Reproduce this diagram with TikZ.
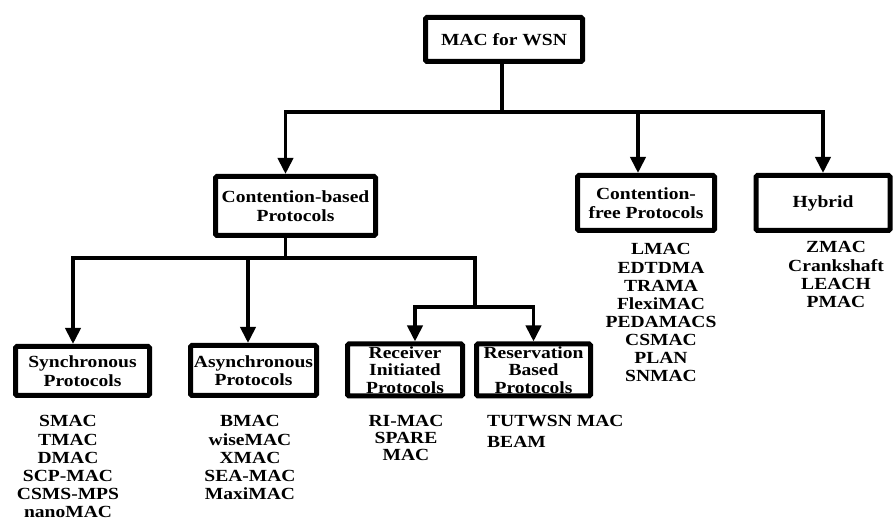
\documentclass[tikz,border=0pt]{standalone}
\usepackage{fontspec}
\setmainfont{Liberation Serif}[FakeStretch=1.15]
\usetikzlibrary{arrows.meta}
\begin{document}
\begin{tikzpicture}[x=1pt,y=-1pt,
  box/.style={draw, line width=5pt, rounded corners=1.5pt, align=center, inner sep=0pt,
    font=\fontsize{17}{18.5}\selectfont\bfseries},
  conn/.style={line width=3.8pt},
  arr/.style={conn, -{Triangle[width=15pt,length=16pt]}},
  lst/.style={align=center, inner sep=0pt, font=\fontsize{17}{18.1}\selectfont\bfseries}]
\useasboundingbox (0,0) rectangle (895,521);

% boxes
\node[box, minimum width=157, minimum height=44] (root) at (504,39.5) {MAC for WSN};
\node[box, minimum width=160, minimum height=59] (cb) at (295.5,206) {Contention-based\\Protocols};
\node[box, minimum width=137, minimum height=55] (cf) at (646,203) {Contention-\\free Protocols};
\node[box, minimum width=134, minimum height=55] (hy) at (823,203) {Hybrid};
\node[box, minimum width=134, minimum height=49] (sy) at (82.5,371) {Synchronous\\Protocols};
\node[box, minimum width=126, minimum height=50] (as) at (253.5,370.5) {Asynchronous\\Protocols};
\node[box, minimum width=115, minimum height=52, font=\fontsize{17}{17.2}\selectfont\bfseries] (ri) at (405,370) {Receiver\\Initiated\\Protocols};
\node[box, minimum width=114, minimum height=52, font=\fontsize{17}{17.2}\selectfont\bfseries] (rb) at (533.5,370) {Reservation\\Based\\Protocols};

% connectors level 1
\coordinate (b1) at (502,112);
\draw[conn] (root.south -| b1) -- (b1);
\draw[arr] (b1) -| ([xshift=-10pt]cb.north);
\draw[arr] (b1) -| (hy.north);
\draw[arr] ([xshift=-8pt]cf.north |- b1) -- ([xshift=-8pt]cf.north);

% connectors level 2
\coordinate (c1) at (285.5,258);
\coordinate (c2) at (475,307);
\draw[conn] ([xshift=-10pt]cb.south) -- (c1);
\draw[arr] (c1) -| ([xshift=-9.5pt]sy.north);
\draw[arr] (c1) -| ([xshift=-5.5pt]as.north);
\draw[arr] (c1) -| (c2) -| ([xshift=10pt]ri.north);
\draw[arr] (c2) -| (rb.north);

% lists
\node[lst, anchor=north] (syl) at (68,415.5) {SMAC\\TMAC\\DMAC\\SCP-MAC\\CSMS-MPS\\nanoMAC};
\node[lst, anchor=north] (asl) at (250,415.5) {BMAC\\wiseMAC\\XMAC\\SEA-MAC\\MaxiMAC};
\node[lst, anchor=north, font=\fontsize{17}{17}\selectfont\bfseries] (ril) at (406,415.5) {RI-MAC\\SPARE\\MAC};
\node[lst, anchor=north west, align=left, font=\fontsize{17}{21}\selectfont\bfseries] (rbl) at (487,415) {TUTWSN MAC\\BEAM};
\node[lst, anchor=north] (cfl) at (661,243.5) {LMAC\\EDTDMA\\TRAMA\\FlexiMAC\\PEDAMACS\\CSMAC\\PLAN\\SNMAC};
\node[lst, anchor=north] (hyl) at (836,241.5) {ZMAC\\Crankshaft\\LEACH\\PMAC};
\end{tikzpicture}
\end{document}
